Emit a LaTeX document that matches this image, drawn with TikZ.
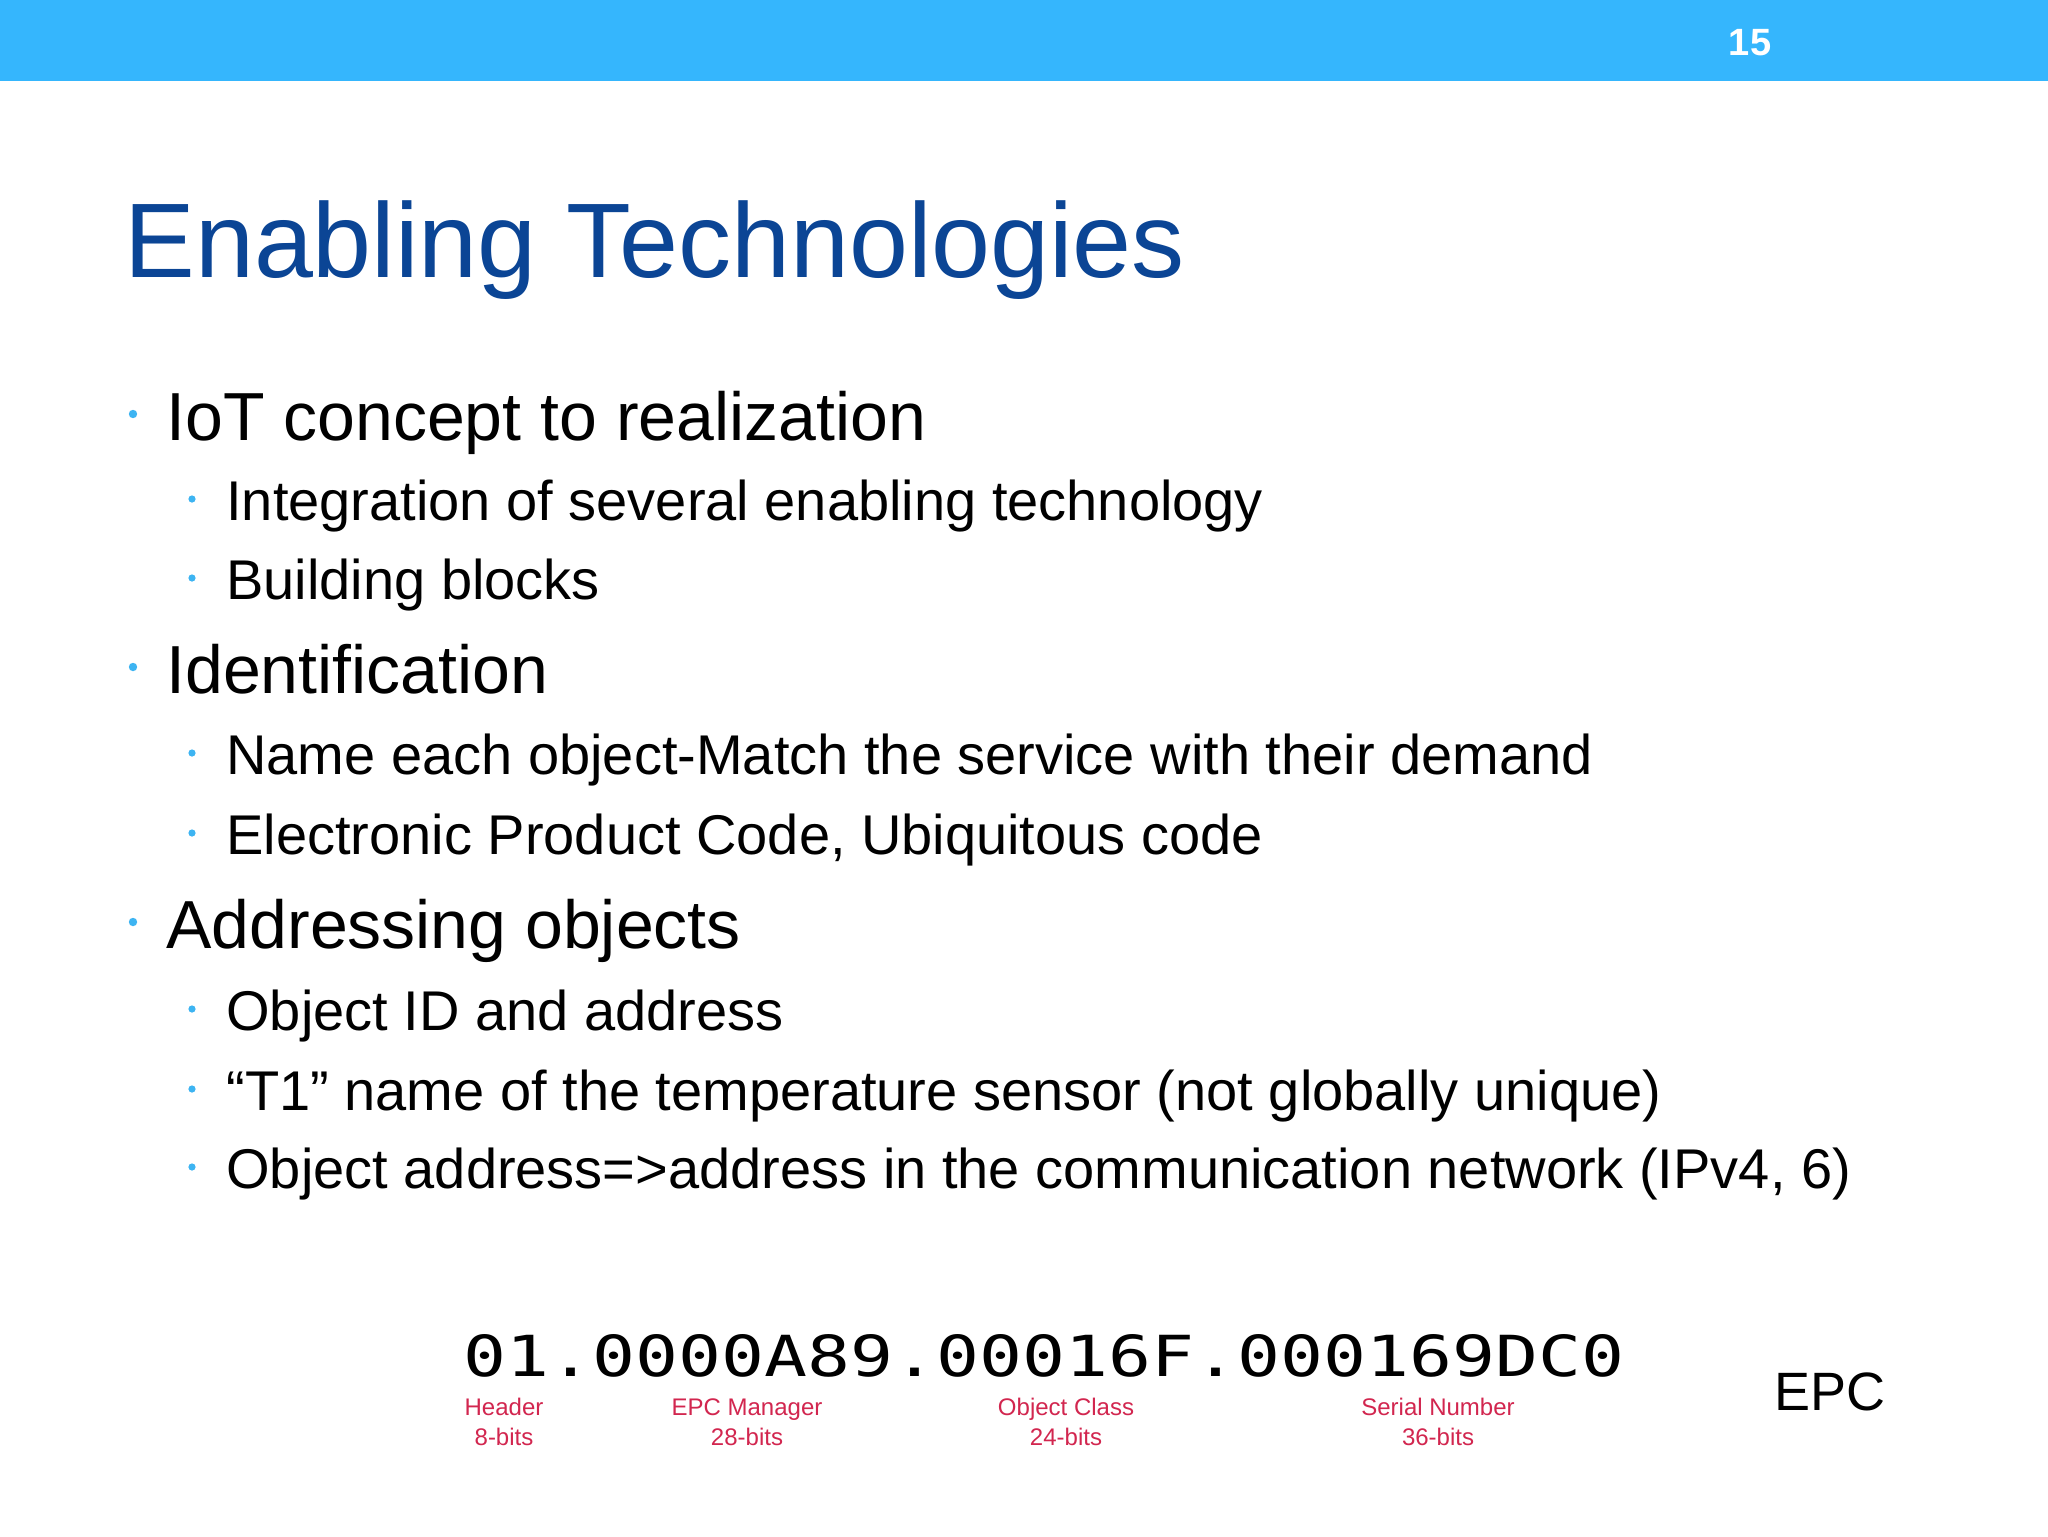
\documentclass[tikz,border=0pt]{standalone}
\usepackage{fontspec}
\setmainfont{Liberation Sans}
\newfontfamily\monofont{DejaVu Sans Mono}
\definecolor{barblue}{HTML}{35B6FD}
\definecolor{titleblue}{HTML}{0B4595}
\definecolor{bulblue}{HTML}{3DB4F2}
\definecolor{epcred}{HTML}{D2264F}
\tikzset{
 lvone/.style={anchor=base west,inner sep=0pt,font=\fontsize{34}{40}\selectfont},
 lvtwo/.style={anchor=base west,inner sep=0pt,font=\fontsize{28}{33}\selectfont},
 dotone/.style={circle,fill=bulblue,inner sep=0pt,minimum size=4.2pt},
 dottwo/.style={circle,fill=bulblue,inner sep=0pt,minimum size=3.6pt},
 redlab/.style={inner sep=0pt,text=epcred,align=center,font=\fontsize{12}{15}\selectfont}
}
\begin{document}
\begin{tikzpicture}[x=0.5pt,y=-0.5pt]
\useasboundingbox (0,0) rectangle (2048,1536);
\fill[white] (0,0) rectangle (2048,1536);
\fill[barblue] (0,0) rectangle (2048,81);
\node[text=white,font=\bfseries\fontsize{19}{22}\selectfont,inner sep=0pt] (pg) at (1750,43) {15};
\node[anchor=base west,inner sep=0pt,text=titleblue,font=\fontsize{53}{60}\selectfont] (title) at (124,277) {Enabling Technologies};
% level 1
\node[lvone] (a) at (166,440) {IoT concept to realization};
\node[lvone] (b) at (166,693) {Identification};
\node[lvone] (c) at (166,948) {Addressing objects};
\foreach \y/\n in {440/da,693/db,948/dc} \node[dotone] (\n) at (133,\y-26) {};
% level 2
\node[lvtwo] (a1) at (226,520) {Integration of several enabling technology};
\node[lvtwo] (a2) at (226,599) {Building blocks};
\node[lvtwo] (b1) at (226,774) {Name each object-Match the service with their demand};
\node[lvtwo] (b2) at (226,854) {Electronic Product Code, Ubiquitous code};
\node[lvtwo] (c1) at (226,1030) {Object ID and address};
\node[lvtwo] (c2) at (226,1110) {“T1” name of the temperature sensor (not globally unique)};
\node[lvtwo] (c3) at (226,1188) {Object address=>address in the communication network (IPv4, 6)};
\foreach \y/\n in {520/e1,599/e2,774/e3,854/e4,1030/e5,1110/e6,1188/e7} \node[dottwo] (\n) at (192,\y-21) {};
% EPC
\node[inner sep=0pt] (code) at (1044,1356) {\resizebox{580pt}{21pt}{\monofont 01.0000A89.00016F.000169DC0}};
\node[redlab] (h) at (504,1422) {Header\\8-bits};
\node[redlab] (m) at (747,1422) {EPC Manager\\28-bits};
\node[redlab] (o) at (1066,1422) {Object Class\\24-bits};
\node[redlab] (s) at (1438,1422) {Serial Number\\36-bits};
\node[anchor=base west,inner sep=0pt,font=\fontsize{27}{32}\selectfont] (epc) at (1774,1410) {EPC};
\end{tikzpicture}
\end{document}
